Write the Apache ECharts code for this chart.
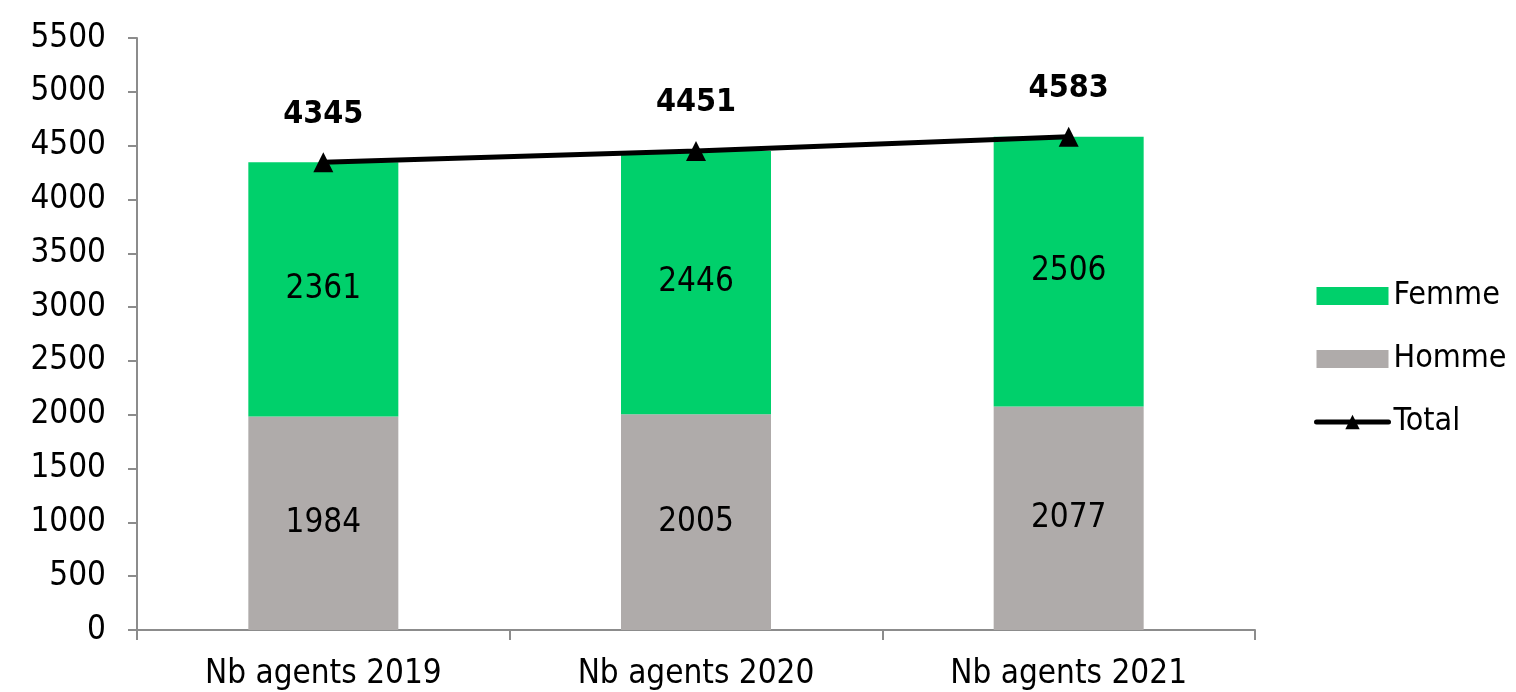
<!DOCTYPE html>
<html>
<head>
<meta charset="utf-8">
<script src="https://cdn.jsdelivr.net/npm/echarts@6/dist/echarts.min.js"></script>
<style>
  html, body { margin: 0; padding: 0; background: #fff; }
  #chart { width: 1516px; height: 692px; }
</style>
</head>
<body>
<div id="chart"></div>
<script>
var categories = ['Nb agents 2019', 'Nb agents 2020', 'Nb agents 2021'];
var homme = [1984, 2005, 2077];
var femme = [2361, 2446, 2506];
var total = [4345, 4451, 4583];

var fontName = 'DejaVu Sans Condensed';
var myChart = echarts.init(document.getElementById('chart'));

var option = {
    animation: false,
    grid: { left: 137, right: 261, top: 38, bottom: 62 },
    legend: {
        orient: 'vertical',
        left: 1309,
        top: 275,
        itemWidth: 72,
        itemHeight: 18,
        itemGap: 31,
        textStyle: { fontFamily: fontName, fontSize: 32, color: '#000', lineHeight: 30 },
        data: [
            { name: 'Femme', icon: 'rect' },
            { name: 'Homme', icon: 'rect' },
            { name: 'Total', lineStyle: { width: 5, color: '#000', cap: 'round' } }
        ]
    },
    xAxis: {
        type: 'category',
        data: categories,
        axisLine: { lineStyle: { color: '#8c8c8c', width: 2 } },
        axisTick: { show: true, length: 10, lineStyle: { color: '#8c8c8c', width: 2 } },
        axisLabel: { fontFamily: fontName, fontSize: 33, color: '#000', margin: 28 }
    },
    yAxis: {
        type: 'value',
        min: 0,
        max: 5500,
        interval: 500,
        splitLine: { show: false },
        axisLine: { show: true, lineStyle: { color: '#8c8c8c', width: 2 } },
        axisTick: { show: true, length: 9, lineStyle: { color: '#8c8c8c', width: 2 } },
        axisLabel: {
            fontFamily: fontName, fontSize: 33, color: '#000', margin: 31,
            formatter: function (v) { return String(v); }
        }
    },
    series: [
        {
            name: 'Homme',
            type: 'bar',
            stack: 'agents',
            barWidth: 150,
            data: homme,
            itemStyle: { color: '#afabaa' },
            label: { show: true, position: 'inside', fontFamily: fontName, fontSize: 33, color: '#000' }
        },
        {
            name: 'Femme',
            type: 'bar',
            stack: 'agents',
            barWidth: 150,
            data: femme,
            itemStyle: { color: '#00d06b' },
            label: { show: true, position: 'inside', fontFamily: fontName, fontSize: 33, color: '#000' }
        },
        {
            name: 'Total',
            type: 'line',
            data: total,
            symbol: 'triangle',
            symbolSize: 20,
            lineStyle: { color: '#000', width: 5 },
            itemStyle: { color: '#000' },
            label: {
                show: true, position: 'top', distance: 22,
                fontFamily: fontName, fontSize: 32, fontWeight: 'bold', color: '#000'
            },
            z: 5
        }
    ]
};

myChart.setOption(option);
</script>
</body>
</html>
